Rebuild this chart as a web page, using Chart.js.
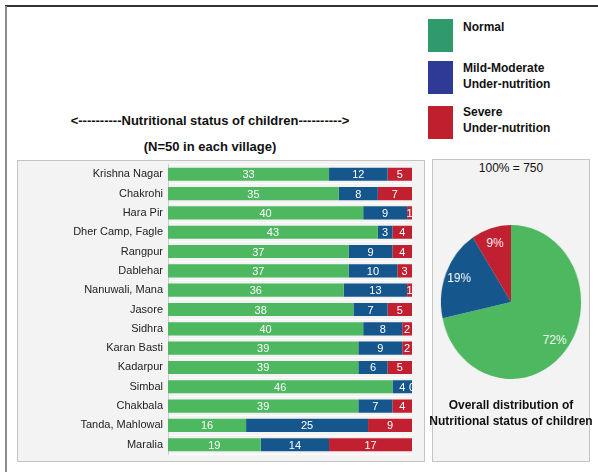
<!DOCTYPE html>
<html>
<head>
<meta charset="utf-8">
<script src="https://cdn.jsdelivr.net/npm/chart.js@4/dist/chart.umd.min.js"></script>
<style>
  body { margin:0; background:#fff; font-family:"Liberation Sans", Arial, sans-serif; }
  #fig { position:relative; width:598px; height:472px; overflow:hidden; }
  .abs { position:absolute; }
  .b { font-weight:bold; color:#111; }
  .sw { position:absolute; width:25px; height:33px; }
  .panel { position:absolute; background:#f3f3f3; border:1px solid #c4c4c4; box-sizing:border-box; }
</style>
</head>
<body>
<div id="fig">
  <div class="abs" style="left:5px;top:5px;width:600px;height:2px;background:#333"></div>
  <div class="abs" style="left:5px;top:6px;width:2px;height:470px;background:#8a8a8a"></div>

  <div class="sw" style="left:428px;top:19px;background:#2f9a6b"></div>
  <div class="sw" style="left:428px;top:61px;background:#2f3a97"></div>
  <div class="sw" style="left:428px;top:106px;background:#c01f2e"></div>
  <div class="abs b" style="left:463px;top:19px;font-size:12px;line-height:16px">Normal</div>
  <div class="abs b" style="left:463px;top:60px;font-size:12px;line-height:16px">Mild-Moderate<br>Under-nutrition</div>
  <div class="abs b" style="left:463px;top:104px;font-size:12px;line-height:16px">Severe<br>Under-nutrition</div>

  <div class="abs b" style="left:10px;top:113px;width:400px;text-align:center;font-size:13px">&lt;----------Nutritional status of children----------&gt;</div>
  <div class="abs b" style="left:10px;top:139px;width:400px;text-align:center;font-size:13px">(N=50 in each village)</div>

  <div class="panel" style="left:17px;top:160px;width:408px;height:302px"></div>
  <div class="abs" style="left:17px;top:153px;width:408px;height:313px"><canvas id="bars"></canvas></div>

  <div class="panel" style="left:432px;top:159px;width:158px;height:303px"></div>
  <div class="abs" style="left:432px;top:161px;width:158px;text-align:center;font-size:12px;color:#111">100% = 750</div>
  <div class="abs" style="left:434px;top:225px;width:154px;height:154px;transform:scaleX(0.91)"><canvas id="pie"></canvas></div>
  <div class="abs b" style="left:420px;top:397px;width:182px;text-align:center;font-size:12px;line-height:16px">Overall distribution of<br>Nutritional status of children</div>
</div>
<script>
var villages = ['Krishna Nagar','Chakrohi','Hara Pir','Dher Camp, Fagle','Rangpur','Dablehar','Nanuwali, Mana','Jasore','Sidhra','Karan Basti','Kadarpur','Simbal','Chakbala','Tanda, Mahlowal','Maralia'];
var normal = [33,35,40,43,37,37,36,38,40,39,39,46,39,16,19];
var mild   = [12,8,9,3,9,10,13,7,8,9,6,4,7,25,14];
var severe = [5,7,1,4,4,3,1,5,2,2,5,0,4,9,17];
var statusNames = ['Normal','Mild-Moderate Under-nutrition','Severe Under-nutrition'];
var colors = ['#4db85f','#15578c','#c12030'];

function sum(a){ return a.reduce(function(s,v){ return s+v; },0); }
var totals = [sum(normal), sum(mild), sum(severe)];

var font = '"Liberation Sans", Arial, sans-serif';

var barLabels = {
  id:'barLabels',
  afterDatasetsDraw: function(chart){
    var ctx = chart.ctx, a = chart.chartArea;
    ctx.save();
    ctx.beginPath(); ctx.rect(a.left, a.top, a.right-a.left, a.bottom-a.top); ctx.clip();
    ctx.fillStyle = '#fff';
    ctx.font = '11px ' + font;
    ctx.textAlign = 'center'; ctx.textBaseline = 'middle';
    chart.data.datasets.forEach(function(ds, i){
      chart.getDatasetMeta(i).data.forEach(function(bar, j){
        ctx.fillText(ds.data[j], (bar.x + bar.base)/2, bar.y + 1);
      });
    });
    ctx.restore();
  }
};

new Chart(document.getElementById('bars'), {
  type:'bar',
  data:{
    labels: villages,
    datasets:[
      {label:statusNames[0], data:normal, backgroundColor:colors[0]},
      {label:statusNames[1], data:mild, backgroundColor:colors[1]},
      {label:statusNames[2], data:severe, backgroundColor:colors[2]}
    ]
  },
  options:{
    indexAxis:'y',
    responsive:true, maintainAspectRatio:false, animation:false,
    barPercentage:0.68, categoryPercentage:1,
    layout:{padding:{top:0, bottom:0, right:13, left:0}},
    plugins:{legend:{display:false}, tooltip:{enabled:false}},
    scales:{
      x:{stacked:true, min:0, max:50, display:false},
      y:{stacked:true,
         grid:{display:true, offset:true, color:'#ffffff', drawTicks:false},
         border:{display:true, color:'#d0d0d0'},
         ticks:{color:'#222', padding:5, font:{family:font, size:11}},
         afterFit:function(s){ s.width = 151; }}
    }
  },
  plugins:[barLabels]
});

var pieLabels = {
  id:'pieLabels',
  afterDatasetsDraw: function(chart){
    var ctx = chart.ctx, ds = chart.data.datasets[0], tot = sum(ds.data);
    ctx.save();
    ctx.fillStyle = '#fff';
    ctx.font = '13px ' + font;
    ctx.textAlign = 'center'; ctx.textBaseline = 'middle';
    chart.getDatasetMeta(0).data.forEach(function(arc, i){
      var m = (arc.startAngle + arc.endAngle)/2, r = arc.outerRadius*0.8;
      ctx.fillText(Math.round(ds.data[i]/tot*100) + '%', arc.x + Math.cos(m)*r, arc.y + Math.sin(m)*r);
    });
    ctx.restore();
  }
};

new Chart(document.getElementById('pie'), {
  type:'pie',
  data:{
    labels: statusNames,
    datasets:[{data:totals, backgroundColor:colors, borderWidth:0}]
  },
  options:{
    responsive:true, maintainAspectRatio:false, animation:false,
    plugins:{legend:{display:false}, tooltip:{enabled:false}}
  },
  plugins:[pieLabels]
});
</script>
</body>
</html>
